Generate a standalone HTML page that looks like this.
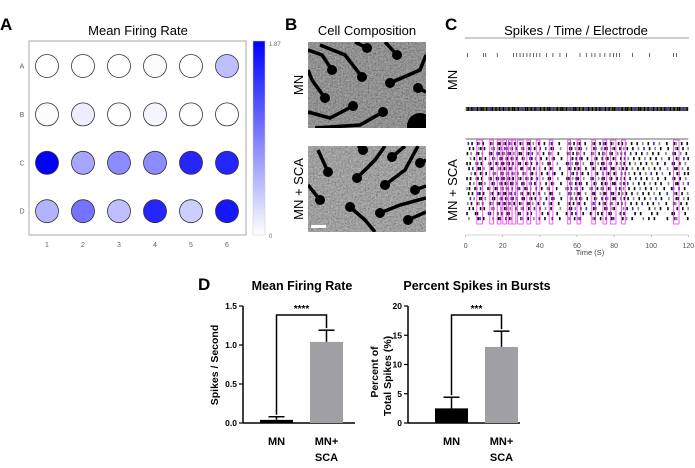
<!DOCTYPE html>
<html><head><meta charset="utf-8"><style>
html,body{margin:0;padding:0;background:#fff;}
svg{display:block;font-family:"Liberation Sans",sans-serif;}
</style></head><body>
<svg id="fig" width="695" height="468" viewBox="0 0 695 468">
<defs>
<filter id="noise" x="0" y="0" width="100%" height="100%"><feTurbulence type="fractalNoise" baseFrequency="0.6" numOctaves="2" seed="3"/><feColorMatrix type="saturate" values="0"/><feComponentTransfer><feFuncR type="linear" slope="1.6" intercept="-0.3"/><feFuncG type="linear" slope="1.6" intercept="-0.3"/><feFuncB type="linear" slope="1.6" intercept="-0.3"/><feFuncA type="linear" slope="0" intercept="0.45"/></feComponentTransfer></filter>
<linearGradient id="cbar" x1="0" y1="1" x2="0" y2="0"><stop offset="0" stop-color="#fff"/><stop offset="1" stop-color="#0000ff"/></linearGradient>
<clipPath id="imgTop"><rect x="308" y="42" width="118" height="86"/></clipPath>
<clipPath id="imgBot"><rect x="308" y="146" width="118" height="86"/></clipPath>
</defs>

<!-- Panel A -->
<text x="0" y="30" font-size="17" font-weight="bold">A</text>
<text x="138" y="35" font-size="13" text-anchor="middle">Mean Firing Rate</text>
<rect x="29" y="41" width="217" height="194" fill="#fff" stroke="#aaa"/>
<g id="heat"></g>
<rect x="253" y="41" width="12" height="194" fill="url(#cbar)" stroke="#ccc" stroke-width="0.5"/>
<text x="269" y="46" font-size="6" fill="#666">1.87</text>
<text x="269" y="238" font-size="6" fill="#666">0</text>

<!-- Panel B -->
<text x="285" y="30" font-size="17" font-weight="bold">B</text>
<text x="367" y="35" font-size="13" text-anchor="middle">Cell Composition</text>
<g clip-path="url(#imgTop)">
<rect x="308" y="42" width="118" height="86" fill="#6e6e6e"/>
<rect x="308" y="42" width="118" height="86" filter="url(#noise)"/>
<g stroke="#000" stroke-width="3.5" fill="none">
<path d="M367 48 L355 42"/><path d="M397 55 L385 42"/><path d="M332 70 L322 55 L308 50"/><path d="M362 77 L345 55 L320 45"/><path d="M390 83 L420 70 L426 55"/><path d="M418 88 L426 92"/><path d="M325 98 L312 80 L308 70"/><path d="M353 106 L330 118 L308 112"/><path d="M383 112 L360 125 L315 128"/>
</g>
<g fill="#000"><circle cx="367" cy="48" r="5"/><circle cx="397" cy="55" r="5"/><circle cx="332" cy="70" r="5"/><circle cx="362" cy="77" r="5"/><circle cx="390" cy="83" r="5"/><circle cx="418" cy="88" r="5"/><circle cx="325" cy="98" r="5"/><circle cx="353" cy="106" r="5"/><circle cx="383" cy="112" r="5"/><circle cx="420" cy="126" r="13"/></g>
</g>
<g clip-path="url(#imgBot)">
<rect x="308" y="146" width="118" height="86" fill="#888"/>
<rect x="308" y="146" width="118" height="86" filter="url(#noise)"/>
<g stroke="#000" stroke-width="3.5" fill="none">
<path d="M363 150 L358 146"/><path d="M392 157 L405 146"/><path d="M328 172 L318 150"/><path d="M357 178 L375 160 L385 146"/><path d="M385 185 L405 170 L418 146"/><path d="M420 163 L426 160"/><path d="M415 190 L426 186"/><path d="M320 200 L308 185"/><path d="M350 207 L365 220 L375 232"/><path d="M380 213 L400 205 L426 198"/><path d="M408 220 L426 212"/>
</g>
<g fill="#000"><circle cx="363" cy="150" r="5"/><circle cx="392" cy="157" r="5"/><circle cx="328" cy="172" r="5"/><circle cx="357" cy="178" r="5"/><circle cx="385" cy="185" r="5"/><circle cx="420" cy="163" r="5"/><circle cx="415" cy="190" r="5"/><circle cx="320" cy="200" r="5"/><circle cx="350" cy="207" r="5"/><circle cx="380" cy="213" r="5"/><circle cx="408" cy="220" r="5"/></g>
<rect x="311" y="225" width="15" height="3" fill="#fff"/>
</g>
<text transform="translate(303,85) rotate(-90)" font-size="13" text-anchor="middle">MN</text>
<text transform="translate(303,189) rotate(-90)" font-size="13" text-anchor="middle">MN + SCA</text>

<!-- Panel C -->
<text x="445" y="30" font-size="17" font-weight="bold">C</text>
<text x="576" y="35" font-size="13" text-anchor="middle">Spikes / Time / Electrode</text>
<line x1="465" y1="38" x2="689" y2="38" stroke="#999"/>
<text transform="translate(457,80) rotate(-90)" font-size="13" text-anchor="middle">MN</text>
<text transform="translate(457,190) rotate(-90)" font-size="13" text-anchor="middle">MN + SCA</text>
<g id="raster"></g>
<g id="rasterAxis"></g>
<text x="590" y="255" font-size="7.5" fill="#444" text-anchor="middle">Time (S)</text>

<!-- Panel D -->
<text x="198" y="290" font-size="17" font-weight="bold">D</text>
<text x="302" y="290" font-size="12.5" font-weight="bold" text-anchor="middle">Mean Firing Rate</text>
<text x="477" y="290" font-size="12.5" font-weight="bold" text-anchor="middle">Percent Spikes in Bursts</text>
<text transform="translate(218,365) rotate(-90)" font-size="10.5" font-weight="bold" text-anchor="middle">Spikes / Second</text>
<text transform="translate(378,372) rotate(-90)" font-size="10.5" font-weight="bold" text-anchor="middle">Percent of</text>
<text transform="translate(391,376) rotate(-90)" font-size="10.5" font-weight="bold" text-anchor="middle">Total Spikes  (%)</text>
<g id="bars"></g>
</svg>
<script>
// ---- Panel A data ----
const rowLabels = ['A','B','C','D'];
const colLabels = ['1','2','3','4','5','6'];
const rateA = [0.00,0.00,0.00,0.02,0.00,0.47];
const rateB = [0.02,0.13,0.00,0.07,0.00,0.00];
const rateC = [1.87,0.65,0.84,0.84,1.60,1.60];
const rateD = [0.56,1.03,0.47,1.60,0.37,1.70];
const rateMax = 1.87;

// ---- Panel C data ----
const mnSparse = [0.9,9.5,10.8,17,25.7,27.5,29.3,31,33,34.7,36.5,38.3,40,43.6,47,50.8,54.4,61.6,65,68,69.7,72.4,75,77.8,79.6,81.4,83,90,99,112,113.7];
const mnDense = [1,3,4,6,8,9,11,13,14,16,18,20,21,23,25,26,28,30,32,33,35,37,38,40,42,44,45,47,49,51,52,54,56,58,59,61,63,65,66,68,70,72,73,75,77,79,80,82,84,86,87,89,91,93,94,96,98,100,101,103,105,107,108,110,112,114,115,117,119];
const burstStarts = [6,13,17,20,23,25,28,33,38,45,55,60,68,74,78,84,112];
const burstWidth = [3,2,2,2,2,2,3,2,2,2,1.5,2,2,2,3,2,3];
const baseSpikes = [1,3,6,7,9,13,14,17,18,20,21,23,24,26,29,30,33,34,36,39,42,45,46,50,55,56,58,60,61,64,68,69,72,74,75,78,79,82,84,86,89,92,95,98,101,104,108,112,113,116,119];
const rowShift = [0,0.7,-0.5,1.2,-1,0.4,1.6,-0.8,0.9,-1.4,0.2,1.1,-0.3,0.6,-1.1,0.3];
const rowKeep = [1,2,1,1,2,1,2,1,1,2,3,1,2,4,2,3];
const rasterTicks = [0,20,40,60,80,100,120];

// ---- Panel D data ----
const barCats = ['MN','MN+SCA'];
const mfrVals = [0.04,1.04];
const mfrErr = [0.08,1.19];
const mfrTicks = ['0.0','0.5','1.0','1.5'];
const psbVals = [2.5,13];
const psbErr = [4.4,15.7];
const psbTicks = ['0','5','10','15','20'];

const NS='http://www.w3.org/2000/svg';
function mk(tag, attrs, parent, txt){const e=document.createElementNS(NS,tag);for(const k in attrs)e.setAttribute(k,attrs[k]);if(txt!==undefined)e.textContent=txt;parent.appendChild(e);return e;}

// Panel A
const heat=document.getElementById('heat');
const rows=[rateA,rateB,rateC,rateD];
const colX=i=>47+i*36, rowY=j=>66+j*48.4;
rows.forEach((r,j)=>{
  const t=mk('text',{x:22,y:rowY(j)+2.5,'font-size':7,fill:'#666','text-anchor':'middle'},heat,rowLabels[j]);
  
  
  r.forEach((v,i)=>{
    const f=Math.min(v/rateMax,1);const c=Math.round(255*(1-f));
    const el=mk('circle',{cx:colX(i),cy:rowY(j),r:11.5,fill:`rgb(${c},${c},255)`,stroke:'#333','stroke-width':0.8},heat);
    
    
  });
});
colLabels.forEach((l,i)=>{
  const t=mk('text',{x:colX(i),y:247,'font-size':7,fill:'#666','text-anchor':'middle'},heat,l);
  
  
});

// Panel C
const ras=document.getElementById('raster');
const tx=t=>465.7+t*(222.6/120);
mnSparse.forEach(t=>{const e=mk('line',{x1:tx(t),x2:tx(t),y1:53,y2:57,stroke:'#222','stroke-width':0.7},ras);});
mk('rect',{x:465.7,y:107,width:222.6,height:4,fill:'#555'},ras);
mnDense.forEach((t,k)=>{const e=mk('rect',{x:tx(t),y:107,width:1.2,height:4,fill:k%5==2?'#2233dd':'#000'},ras);});
mk('line',{x1:465.7,x2:688.3,y1:139,y2:139,stroke:'#888','stroke-width':1.2},ras);
rowShift.forEach((s,r)=>{
  const y=142+r*5;
  baseSpikes.forEach((t,k)=>{
    if((k+r)%(rowKeep[r]+1)===0 && r>12) return;
    const tt=Math.min(119.5,Math.max(0.3,t+s));
    const col=((k*7+r*3)%11===0)?'#2233dd':(((k+r)%3===0)?'#888':'#111');
    const e=mk('rect',{x:tx(tt),y:y,width:1.6,height:3.2,fill:col},ras);
    
    
  });
});
burstStarts.forEach((b,i)=>{
  const e=mk('rect',{x:tx(b),y:140,width:burstWidth[i]*1.855,height:84,fill:'none',stroke:'#ff33ff','stroke-width':0.8},ras);
  
  
});
const rax=document.getElementById('rasterAxis');
mk('line',{x1:465.7,x2:688.3,y1:235,y2:235,stroke:'#aaa','stroke-width':0.6},rax);
rasterTicks.forEach(t=>{
  mk('line',{x1:tx(t),x2:tx(t),y1:235,y2:237,stroke:'#999','stroke-width':0.6},rax);
  const e=mk('text',{x:tx(t),y:248,'font-size':7,fill:'#555','text-anchor':'middle'},rax,String(t));
  
  
});

// Panel D
const bars=document.getElementById('bars');
function barChart(x0,max,ticks,vals,errs,bx,stars,tickVals){
  const y0=423,y1=306;const sy=v=>y0-(v/max)*(y0-y1);
  mk('line',{x1:x0,x2:x0,y1:y1,y2:y0,stroke:'#000','stroke-width':1.5},bars);
  mk('line',{x1:x0,x2:x0+112,y1:y0,y2:y0,stroke:'#000','stroke-width':1.5},bars);
  ticks.forEach((l,i)=>{const v=tickVals[i];mk('line',{x1:x0-4,x2:x0,y1:sy(v),y2:sy(v),stroke:'#000','stroke-width':1.2},bars);
    const e=mk('text',{x:x0-6,y:sy(v)+3,'font-size':8.5,'font-weight':'bold','text-anchor':'end'},bars,l);
    
    });
  vals.forEach((v,i)=>{
    const cx=bx[i]+16.5;
    mk('line',{x1:cx,x2:cx,y1:sy(errs[i]),y2:sy(v),stroke:'#000','stroke-width':1.5},bars);
    mk('line',{x1:cx-8,x2:cx+8,y1:sy(errs[i]),y2:sy(errs[i]),stroke:'#000','stroke-width':1.5},bars);
    const b=mk('rect',{x:bx[i],y:sy(v),width:33,height:y0-sy(v),fill:i==0?'#000':'#a0a0a4'},bars);
    
    
    const l1=mk('text',{x:cx,y:445,'font-size':11,'font-weight':'bold','text-anchor':'middle'},bars,i==0?'MN':'MN+');
    
    
    if(i==1){const l2=mk('text',{x:cx,y:461,'font-size':11,'font-weight':'bold','text-anchor':'middle'},bars,'SCA');
      
      }
  });
  const c0=bx[0]+16.5,c1=bx[1]+16.5;
  mk('path',{d:`M${c0} ${sy(errs[0])-2} V315 H${c1} V${sy(errs[1])-2}`,fill:'none',stroke:'#000','stroke-width':1.5},bars);
  const s=mk('text',{x:(c0+c1)/2,y:312,'font-size':10,'font-weight':'bold','text-anchor':'middle'},bars,stars);
  
  
}
barChart(243,1.5,mfrTicks,mfrVals,mfrErr,[260,310],'****',[0,0.5,1,1.5]);
barChart(408,20,psbTicks,psbVals,psbErr,[435,485],'***',[0,5,10,15,20]);
</script>
</body></html>
